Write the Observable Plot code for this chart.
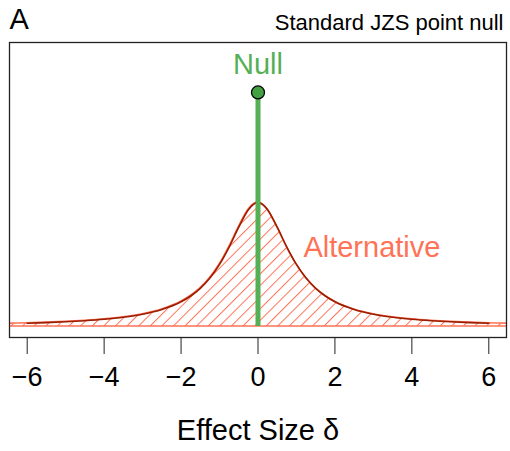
<!DOCTYPE html>
<html>
<head>
<meta charset="utf-8">
<script src="https://cdn.jsdelivr.net/npm/d3@7"></script>
<script src="https://cdn.jsdelivr.net/npm/@observablehq/plot@0.6"></script>
<style>
  html, body { margin: 0; padding: 0; background: #fff; }
  svg { display: block; }
</style>
</head>
<body>
<div id="chart"></div>
<script>
// Effect size grid and prior density
const delta = [-6.5, -6, -5.5, -5, -4.5, -4, -3.5, -3, -2.5, -2, -1.75, -1.5, -1.25, -1, -0.75, -0.5, -0.25,
  0, 0.25, 0.5, 0.75, 1, 1.25, 1.5, 1.75, 2, 2.5, 3, 3.5, 4, 4.5, 5, 5.5, 6, 6.5];
const density = [0.0074, 0.0086, 0.0102, 0.0122, 0.0150, 0.0187, 0.0240, 0.0318, 0.0439, 0.0637, 0.0784, 0.0979, 0.1242, 0.1592, 0.2037, 0.2546, 0.2996,
  0.3183, 0.2996, 0.2546, 0.2037, 0.1592, 0.1242, 0.0979, 0.0784, 0.0637, 0.0439, 0.0318, 0.0240, 0.0187, 0.0150, 0.0122, 0.0102, 0.0086, 0.0074];
const nullDelta = [0];
const nullHeight = [0.6];
const xTicks = [-6, -4, -2, 0, 2, 4, 6];
const labels = { panel: "A", title: "Standard JZS point null", nullLabel: "Null", altLabel: "Alternative", xLabel: "Effect Size δ" };

const prior = delta.map((d, i) => ({ delta: d, density: density[i] }));
const curve = prior.filter(d => Math.abs(d.delta) <= 6);
const nullPt = nullDelta.map((d, i) => ({ delta: d, h: nullHeight[i] }));

const green = "#55b055";
const salmon = "#ff7256";
const darkred = "#9a1d00";

const chart = Plot.plot({
  width: 510,
  height: 451,
  marginLeft: 9,
  marginRight: 4,
  marginTop: 42,
  marginBottom: 114,
  style: { fontFamily: "'Liberation Sans', Arial, Helvetica, sans-serif", background: "#fff", color: "#000" },
  x: { domain: [-6.46, 6.46] },
  y: { domain: [-0.028, 0.728], axis: null },
  marks: [
    Plot.areaY(prior, { x: "delta", y1: 0, y2: "density", fill: "url(#hatch)", stroke: salmon, strokeWidth: 1.6, curve: "monotone-x", clip: true }),
    Plot.line(curve, { x: "delta", y: "density", stroke: darkred, strokeWidth: 1.6, curve: "monotone-x" }),
    Plot.ruleX(nullPt, { x: "delta", y1: 0, y2: "h", stroke: green, strokeWidth: 5 }),
    Plot.dot(nullPt, { x: "delta", y: "h", r: 6.5, fill: "#43a043", stroke: "#000", strokeWidth: 1.3 }),
    Plot.text(nullPt, { x: "delta", y: 0.671, text: () => labels.nullLabel, fill: green, fontSize: 29 }),
    Plot.text([labels.altLabel], { x: 1.18, y: 0.202, text: d => d, fill: salmon, fontSize: 29, textAnchor: "start" }),
    Plot.frame({ stroke: "#222", strokeWidth: 1.3 }),
    Plot.axisX({ ticks: xTicks, tickSize: 17, tickPadding: 12, fontSize: 27, label: null, stroke: "#222" }),
    Plot.text([labels.xLabel], { frameAnchor: "bottom", lineAnchor: "middle", dy: 93, text: d => d, fontSize: 29, fill: "#000" }),
    Plot.text([labels.panel], { frameAnchor: "top-left", lineAnchor: "middle", dx: 0, dy: -23, text: d => d, fontSize: 29, textAnchor: "start", fill: "#000" }),
    Plot.text([labels.title], { frameAnchor: "top-right", lineAnchor: "middle", dx: -3, dy: -20, text: d => d, fontSize: 22, textAnchor: "end", fill: "#000" })
  ]
});

const defs = d3.select(chart).insert("defs", ":first-child");
const pat = defs.append("pattern")
  .attr("id", "hatch")
  .attr("patternUnits", "userSpaceOnUse")
  .attr("width", 8.2)
  .attr("height", 10)
  .attr("patternTransform", "rotate(45)");
pat.append("line")
  .attr("x1", 0).attr("y1", -1).attr("x2", 0).attr("y2", 11)
  .attr("stroke", salmon).attr("stroke-width", 2);

document.getElementById("chart").appendChild(chart);
</script>
</body>
</html>
